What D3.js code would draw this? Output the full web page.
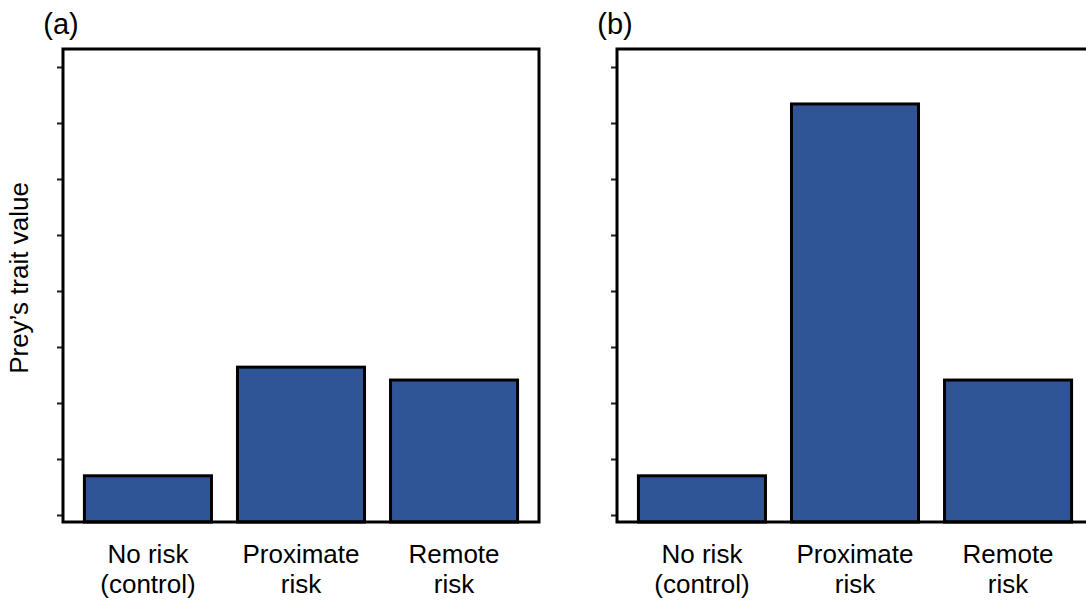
<!DOCTYPE html>
<html><head><meta charset="utf-8">
<script src="https://cdn.jsdelivr.net/npm/d3@7"></script>
<style>body{margin:0;background:#fff}svg{display:block}text{font-family:"Liberation Sans",Arial,sans-serif;fill:#000}</style>
</head><body>
<script>
const categories = ["No risk\n(control)", "Proximate\nrisk", "Remote\nrisk"];
const panelLabels = ["(a)", "(b)"];
const valuesA = [0.70, 2.64, 2.41];
const valuesB = [0.70, 7.34, 2.41];
const tickValues = [0, 1, 2, 3, 4, 5, 6, 7, 8];
const yLabel = "Prey\u2019s trait value";

const W = 1086, H = 603;
const svg = d3.select("body").append("svg").attr("width", W).attr("height", H);

const plotTop = 49, plotBottom = 522, pw = 476;
const y = d3.scaleLinear()
  .domain([(515 - plotBottom) / 56, (515 - plotTop) / 56])
  .range([plotBottom, plotTop]);

const panels = [{x0: 63, vals: valuesA, lab: panelLabels[0]}, {x0: 617, vals: valuesB, lab: panelLabels[1]}];

panels.forEach(p => {
  const g = svg.append("g");
  const x = d3.scaleBand().domain(categories).range([p.x0, p.x0 + pw]).paddingInner(0.17).paddingOuter(0.14);
  const ax = g.append("g").attr("transform", `translate(${p.x0},0)`)
    .call(d3.axisLeft(y).tickValues(tickValues).tickSize(6).tickFormat(""));
  ax.select(".domain").remove();
  ax.selectAll(".tick line").attr("stroke", "#222").attr("stroke-width", 2);
  g.selectAll("rect.bar").data(p.vals).join("rect").attr("class", "bar")
    .attr("x", (d, i) => x(categories[i]))
    .attr("width", x.bandwidth())
    .attr("y", d => y(d))
    .attr("height", d => y.range()[0] - y(d))
    .attr("fill", "#2F5597").attr("stroke", "#000").attr("stroke-width", 3);
  g.append("rect").attr("x", p.x0).attr("y", plotTop).attr("width", pw).attr("height", plotBottom - plotTop)
    .attr("fill", "none").attr("stroke", "#000").attr("stroke-width", 3);
  categories.forEach(c => {
    const lines = c.split("\n");
    const t = g.append("text").attr("text-anchor", "middle").attr("font-size", 26);
    lines.forEach((l, j) => {
      t.append("tspan").attr("x", x(c) + x.bandwidth() / 2).attr("y", 563 + j * 30).text(l);
    });
  });
  g.append("text").attr("x", p.x0 - 2).attr("y", 34).attr("text-anchor", "middle")
    .attr("font-size", 29).text(p.lab);
});

svg.append("text").attr("transform", `translate(28,278) rotate(-90)`)
  .attr("text-anchor", "middle").attr("font-size", 26).text(yLabel);
</script>
</body></html>
